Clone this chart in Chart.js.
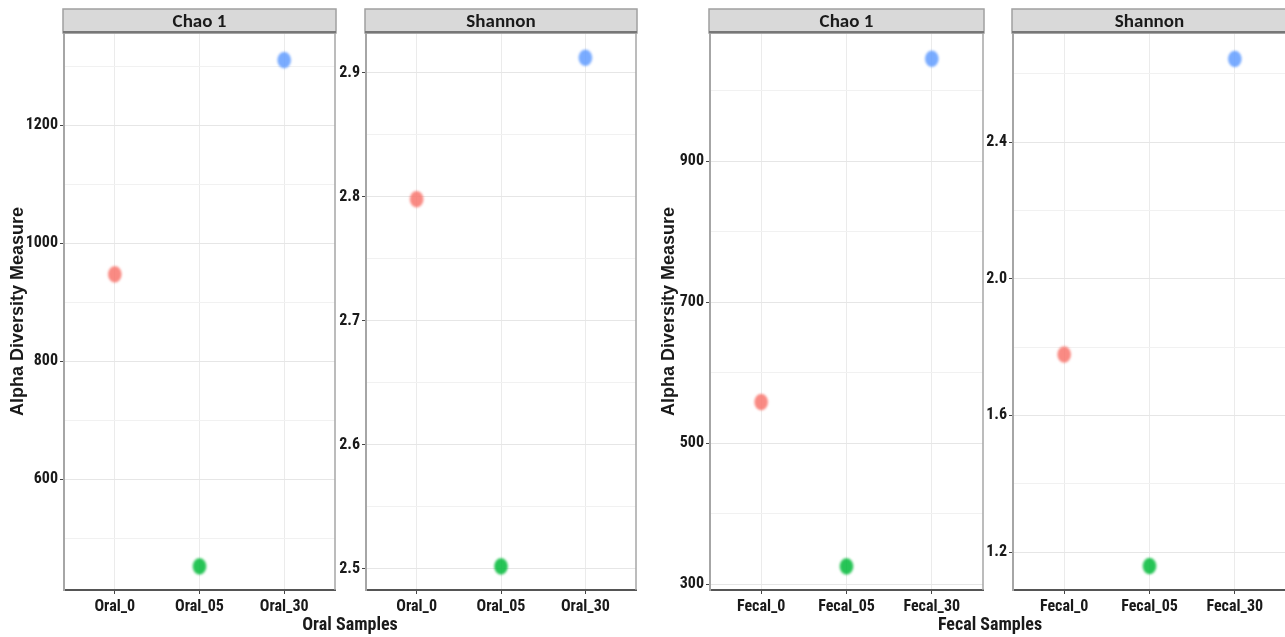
<!DOCTYPE html>
<html>
<head>
<meta charset="utf-8">
<script src="https://cdn.jsdelivr.net/npm/chart.js@4/dist/chart.umd.min.js"></script>
<style>
  html, body { margin: 0; padding: 0; background: #fff; }
  body { width: 1285px; height: 637px; overflow: hidden; position: relative; }
  canvas { position: absolute; }
  .xtitle {
    position: absolute;
    font: bold 18px "Roboto Condensed", "DejaVu Sans Condensed", sans-serif;
    color: #1a1a1a;
    transform: translateX(-50%);
    white-space: nowrap;
  }
</style>
</head>
<body>
<canvas id="oralChao"></canvas>
<canvas id="oralShannon"></canvas>
<canvas id="fecalChao"></canvas>
<canvas id="fecalShannon"></canvas>
<div class="xtitle" style="left:350px; top:613px;">Oral Samples</div>
<div class="xtitle" style="left:990px; top:613px;">Fecal Samples</div>

<script>
// Sample groups (x categories)
const oralSamples = ['Oral_0', 'Oral_05', 'Oral_30'];
const fecalSamples = ['Fecal_0', 'Fecal_05', 'Fecal_30'];

// Alpha diversity estimates per sample
const oralChao1 = [947, 452, 1310];
const oralShannon = [2.798, 2.502, 2.912];
const fecalChao1 = [558, 325, 1045];
const fecalShannon = [1.778, 1.159, 2.643];

// Labelled y ticks per facet
const oralChaoTicks = [600, 800, 1000, 1200];
const oralShannonTicks = [2.5, 2.6, 2.7, 2.8, 2.9];
const fecalChaoTicks = [300, 500, 700, 900];
const fecalShannonTicks = [1.2, 1.6, 2.0, 2.4];

// Group colours (ggplot hue palette)
const groupColors = ['#F8766D', '#00BA38', '#619CFF'];

const TICK_FONT = '"Roboto Condensed", "DejaVu Sans Condensed", sans-serif';
const TITLE_FONT = '"Liberation Sans", Arial, sans-serif';
const STRIP_FONT = 'Carlito, Lato, sans-serif';

// Soft-edged dot used as the point marker
function dotImage(color) {
  const c = document.createElement('canvas');
  c.width = 20; c.height = 24;
  const g = c.getContext('2d');
  g.filter = 'blur(1px)';
  g.globalAlpha = 0.85;
  g.fillStyle = color;
  g.beginPath();
  g.ellipse(10, 12, 6.8, 8.2, 0, 0, Math.PI * 2);
  g.fill();
  return c;
}
const dots = groupColors.map(dotImage);

// Facet strip on top of each panel plus the top/right panel border
const stripPlugin = {
  id: 'facetStrip',
  afterDraw(chart, args, opts) {
    const { ctx, chartArea: a } = chart;
    ctx.save();
    ctx.strokeStyle = '#a6a6a6';
    ctx.lineWidth = 1.5;
    ctx.beginPath();
    ctx.moveTo(a.left, a.top);
    ctx.lineTo(a.right, a.top);
    ctx.lineTo(a.right, a.bottom);
    ctx.stroke();

    const top = 1, h = a.top - 1;
    ctx.fillStyle = '#d9d9d9';
    ctx.fillRect(a.left - 1, top, a.right - a.left + 2, h);
    ctx.strokeStyle = '#a0a0a0';
    ctx.lineWidth = 1.5;
    ctx.strokeRect(a.left - 1, top, a.right - a.left + 2, h);
    ctx.strokeStyle = '#777';
    ctx.lineWidth = 2;
    ctx.beginPath();
    ctx.moveTo(a.left - 1, a.top - 1);
    ctx.lineTo(a.right + 1, a.top - 1);
    ctx.stroke();

    ctx.fillStyle = '#1a1a1a';
    ctx.font = 'bold 19px ' + STRIP_FONT;
    ctx.textAlign = 'center';
    ctx.textBaseline = 'middle';
    ctx.fillText(opts.text, (a.left + a.right) / 2, top + h / 2 + 1);
    ctx.restore();
  }
};

function facetPanel(id, cfg) {
  const el = document.getElementById(id);
  el.width = cfg.w;
  el.height = 607;
  el.style.left = cfg.x + 'px';
  el.style.top = '8px';

  const round = v => Math.round(v * 1e6) / 1e6;
  const majors = cfg.ticks;
  const half = cfg.minorStep;
  const tickSet = new Set();
  majors.forEach(m => {
    [m - half, m, m + half].forEach(v => {
      v = round(v);
      if (v > cfg.min && v < cfg.max) tickSet.add(v);
    });
  });
  const yTickValues = [...tickSet].sort((p, q) => p - q);
  const isMajor = v => majors.some(m => Math.abs(m - v) < 1e-6);

  return new Chart(el, {
    type: 'scatter',
    data: {
      datasets: [{
        data: cfg.values.map((v, i) => ({ x: i, y: v })),
        pointStyle: dots,
        pointRadius: 8,
        pointHoverRadius: 8,
        clip: false
      }]
    },
    plugins: [stripPlugin],
    options: {
      responsive: false,
      animation: false,
      devicePixelRatio: 1,
      events: [],
      layout: { autoPadding: false, padding: { top: 25, right: cfg.padRight, left: 0, bottom: 0 } },
      plugins: {
        legend: { display: false },
        tooltip: { enabled: false },
        facetStrip: { text: cfg.strip }
      },
      scales: {
        x: {
          type: 'linear',
          min: -0.6,
          max: 2.6,
          afterBuildTicks: s => { s.ticks = cfg.categories.map((c, i) => ({ value: i })); },
          afterFit: s => { s.height = 25; s.paddingLeft = 0; s.paddingRight = 0; },
          ticks: {
            callback: v => cfg.categories[v] ?? '',
            color: '#1a1a1a',
            font: { family: TICK_FONT, size: 16, weight: 'bold' },
            padding: 3,
            maxRotation: 0,
            autoSkip: false
          },
          grid: { color: '#ebebeb', lineWidth: 1, tickLength: 4, tickColor: '#444', tickWidth: 1 },
          border: { color: '#555', width: 2 }
        },
        y: {
          type: 'linear',
          min: cfg.min,
          max: cfg.max,
          afterBuildTicks: s => { s.ticks = yTickValues.map(v => ({ value: v })); },
          afterFit: s => { s.width = cfg.axisW; s.paddingTop = 0; s.paddingBottom = 0; },
          title: cfg.yTitle ? {
            display: true,
            text: 'Alpha Diversity Measure',
            color: '#1a1a1a',
            font: { family: TITLE_FONT, size: 18, weight: 'bold' },
            padding: { top: cfg.titlePad, bottom: 0 }
          } : { display: false },
          ticks: {
            callback: v => isMajor(v) ? Number(v).toFixed(cfg.decimals) : '',
            color: '#1a1a1a',
            font: { family: TICK_FONT, size: 16, weight: 'bold' },
            padding: 2,
            autoSkip: false
          },
          grid: {
            color: c => (c.tick && isMajor(c.tick.value)) ? '#e6e6e6' : '#f1f1f1',
            lineWidth: 1,
            tickLength: 4,
            tickWidth: 1,
            tickColor: c => (c.tick && isMajor(c.tick.value)) ? '#444' : 'rgba(0,0,0,0)'
          },
          border: { color: '#a6a6a6', width: 2 }
        }
      }
    }
  });
}

facetPanel('oralChao', {
  x: 0, w: 337, axisW: 64, padRight: 2,
  strip: 'Chao 1', categories: oralSamples, values: oralChao1,
  ticks: oralChaoTicks, minorStep: 100, decimals: 0,
  min: 412, max: 1356, yTitle: true, titlePad: 7
});
facetPanel('oralShannon', {
  x: 330, w: 308, axisW: 36, padRight: 2,
  strip: 'Shannon', categories: oralSamples, values: oralShannon,
  ticks: oralShannonTicks, minorStep: 0.05, decimals: 1,
  min: 2.483, max: 2.932, yTitle: false
});
facetPanel('fecalChao', {
  x: 655, w: 330, axisW: 55, padRight: 2,
  strip: 'Chao 1', categories: fecalSamples, values: fecalChao1,
  ticks: fecalChaoTicks, minorStep: 100, decimals: 0,
  min: 291.5, max: 1081.6, yTitle: true, titlePad: 3
});
facetPanel('fecalShannon', {
  x: 978, w: 310, axisW: 35, padRight: 2,
  strip: 'Shannon', categories: fecalSamples, values: fecalShannon,
  ticks: fecalShannonTicks, minorStep: 0.2, decimals: 1,
  min: 1.089, max: 2.719, yTitle: false
});
</script>
</body>
</html>
